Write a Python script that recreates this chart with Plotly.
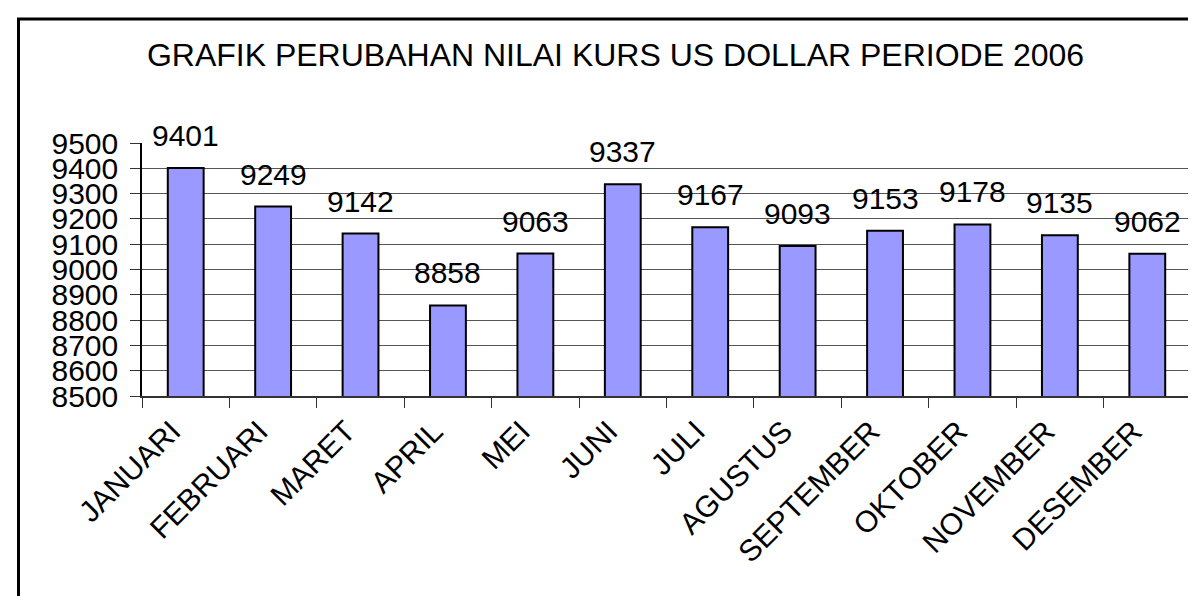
import plotly.graph_objects as go

months = ["JANUARI", "FEBRUARI", "MARET", "APRIL", "MEI", "JUNI", "JULI",
          "AGUSTUS", "SEPTEMBER", "OKTOBER", "NOVEMBER", "DESEMBER"]
kurs = [9401, 9249, 9142, 8858, 9063, 9337, 9167, 9093, 9153, 9178, 9135, 9062]
y_ticks = list(range(8500, 9501, 100))
title_text = "GRAFIK PERUBAHAN NILAI KURS US DOLLAR PERIODE 2006"

W, H = 1196, 596
ML, MR, MT, MB = 134, 13, 135, 208
PW, PH = W - ML - MR, H - MT - MB
FONT = "Liberation Sans, Arial, sans-serif"

def px_x(p):
    return (p - ML) / PW

def px_y(p):
    return (H - MB - p) / PH

fig = go.Figure()
fig.add_trace(go.Bar(
    x=months, y=kurs, width=0.41,
    marker=dict(color="#9999FF", line=dict(color="#000000", width=2)),
    hoverinfo="x+y",
))

for m, v in zip(months, kurs):
    fig.add_annotation(x=m, y=v, text=str(v), showarrow=False,
                       yanchor="bottom", yshift=14,
                       font=dict(family=FONT, size=30, color="#000000"))

fig.update_layout(
    width=W, height=H,
    margin=dict(l=ML, r=MR, t=MT, b=MB),
    paper_bgcolor="white", plot_bgcolor="white",
    showlegend=False,
    font=dict(family=FONT, color="#000000"),
    title=dict(text=title_text, xref="container", x=607.5 / W, xanchor="center",
               yref="container", y=1 - 47 / H, yanchor="middle",
               font=dict(family=FONT, size=32, color="#000000")),
    xaxis=dict(showgrid=False, showline=True, linecolor="#333333", linewidth=1.5,
               ticks="outside", tickson="boundaries", ticklen=10, tickcolor="#333333",
               tickangle=-45, ticklabelstandoff=4, ticklabelshift=-14,
               tickfont=dict(family=FONT, size=30, color="#000000")),
    yaxis=dict(range=[8500, 9500], tickvals=y_ticks, ticktext=[str(t) for t in y_ticks],
               showgrid=True, gridcolor="#555555", gridwidth=1,
               showline=True, linecolor="#000000", linewidth=1.5,
               ticks="outside", ticklen=10, tickcolor="#333333",
               ticklabelstandoff=6, zeroline=False,
               tickfont=dict(family=FONT, size=30, color="#000000")),
)

# plot-area right edge (gray)
fig.add_shape(type="line", xref="paper", yref="paper", x0=1, x1=1, y0=0, y1=1,
              line=dict(color="#888888", width=1.5))
# outer chart border (cropped at right and bottom)
fig.add_shape(type="rect", xref="paper", yref="paper",
              x0=px_x(10.5), x1=px_x(1210), y0=px_y(620), y1=px_y(11),
              line=dict(color="#000000", width=3), fillcolor="rgba(0,0,0,0)",
              layer="above")

fig.write_html("out.html")
